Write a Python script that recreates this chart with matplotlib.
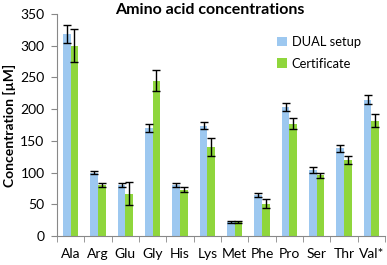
import matplotlib
matplotlib.use("Agg")
import matplotlib.pyplot as plt
import numpy as np

plt.rcParams['font.family'] = ['Lato', 'DejaVu Sans']

categories = ["Ala", "Arg", "Glu", "Gly", "His", "Lys", "Met", "Phe", "Pro", "Ser", "Thr", "Val*"]
dual = [318, 100, 81, 170, 81, 174, 22, 65, 203, 104, 138, 215]
dual_err = [14, 3, 3, 6, 3, 5, 1, 3, 6, 4, 5, 7]
cert = [300, 81, 67, 245, 73, 140, 22, 51, 177, 96, 120, 182]
cert_err = [26, 3, 18, 16, 4, 14, 2, 7, 9, 4, 6, 10]

fig = plt.figure(figsize=(3.87, 2.65), dpi=100)
ax = fig.add_axes([57/387, 1-236/265, (385-57)/387, (236-14)/265])

x = np.arange(len(categories))
w = 0.28
blue = '#9DC8F0'
green = '#8FD63C'
ek = dict(ecolor='black', elinewidth=1.0, capsize=3, capthick=1.0)
ax.bar(x - w/2, dual, w, color=blue, yerr=dual_err, error_kw=ek, label='DUAL setup')
ax.bar(x + w/2, cert, w, color=green, yerr=cert_err, error_kw=ek, label='Certificate')

ax.set_xlim(-0.5, len(categories) - 0.5)
ax.set_ylim(0, 350)
ax.set_yticks(np.arange(0, 351, 50))
ax.set_xticks(x)
ax.set_xticklabels(categories)
ax.set_xticks(np.arange(-0.5, len(categories), 1), minor=True)
ax.tick_params(axis='x', which='major', length=0, labelsize=10, pad=9)
ax.tick_params(axis='x', which='minor', length=4, color='#888888', direction='out')
ax.tick_params(axis='y', length=4, color='#888888', labelsize=10, direction='out', pad=5)
for s in ['top', 'right']:
    ax.spines[s].set_visible(False)
for s in ['left', 'bottom']:
    ax.spines[s].set_color('#888888')
    ax.spines[s].set_linewidth(0.8)

ax.set_ylabel('Concentration [µM]', fontsize=10, fontweight='bold', labelpad=3)
fig.text(210/387, 1-10/265, 'Amino acid concentrations', ha='center', va='center',
         fontsize=11.5, fontweight='bold')
leg = ax.legend(loc='upper left', bbox_to_anchor=(0.655, 0.925), frameon=False,
                fontsize=9.3, handlelength=0.75, handleheight=0.75, handletextpad=0.4,
                labelspacing=0.75, borderaxespad=0)

fig.savefig('out.png', dpi=100)
